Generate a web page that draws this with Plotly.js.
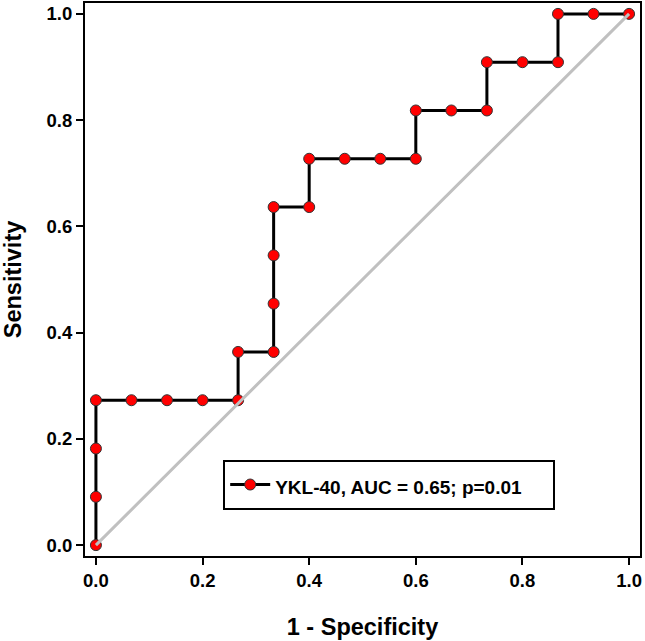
<!DOCTYPE html>
<html><head><meta charset="utf-8">
<script src="https://cdn.plot.ly/plotly-3.0.1.min.js"></script>
<style>html,body{margin:0;padding:0;background:#fff}</style>
</head><body><div id="chart" style="width:645px;height:641px"></div>
<script>
const fpr = [0,0,0,0,1/15,2/15,3/15,4/15,4/15,5/15,5/15,5/15,5/15,6/15,6/15,7/15,8/15,9/15,9/15,10/15,11/15,11/15,12/15,13/15,13/15,14/15,1];
const tpr = [0,1/11,2/11,3/11,3/11,3/11,3/11,3/11,4/11,4/11,5/11,6/11,7/11,7/11,8/11,8/11,8/11,8/11,9/11,9/11,9/11,10/11,10/11,10/11,1,1,1];
const refX = [0,1];
const refY = [0,1];
const seriesName = 'YKL-40, AUC = 0.65; p=0.01';
const tickVals = [0,0.2,0.4,0.6,0.8,1.0];
const tickText = ['0.0','0.2','0.4','0.6','0.8','1.0'];

const FONT = 'Arial, Liberation Sans, sans-serif';
const traces = [
  {x: fpr, y: tpr, type:'scatter', mode:'lines+markers',
   name: '<span style="font-size:19px">' + seriesName + '\u00a0\u00a0\u00a0\u00a0\u00a0</span>',
   line:{color:'#000', width:3},
   marker:{color:'#ff0000', size:11, line:{color:'#333', width:1}}},
  {x: refX, y: refY, type:'scatter', mode:'lines', showlegend:false,
   line:{color:'#c0c0c0', width:3}, hoverinfo:'skip'}
];
const axisCommon = {
  range:[-0.0205,1.0205], tickvals:tickVals, ticktext:tickText,
  ticks:'outside', ticklen:7, tickwidth:2, tickcolor:'#000',
  showline:true, linecolor:'#000', linewidth:2, mirror:true,
  showgrid:false, zeroline:false,
  tickfont:{family:FONT, size:18.5, color:'#000', weight:'bold'}
};
const layout = {
  width:645, height:641,
  margin:{l:85, r:5, t:3, b:85},
  paper_bgcolor:'#fff', plot_bgcolor:'#fff',
  showlegend:true,
  xaxis: Object.assign({}, axisCommon, {
    title:{text:'<b>1 - Specificity</b>', font:{family:FONT, size:23.5, color:'#000'}, standoff:28}
  }),
  yaxis: Object.assign({}, axisCommon, {
    title:{text:'<b>Sensitivity</b>', font:{family:FONT, size:23.5, color:'#000'}, standoff:18}
  }),
  legend:{x:0.249, y:0.174, xanchor:'left', yanchor:'top',
    bordercolor:'#000', borderwidth:2, bgcolor:'#fff',
    font:{family:FONT, size:25, color:'#000', weight:'bold'},
    itemwidth:40}
};
Plotly.newPlot('chart', traces, layout, {displayModeBar:false, staticPlot:true});
</script></body></html>
